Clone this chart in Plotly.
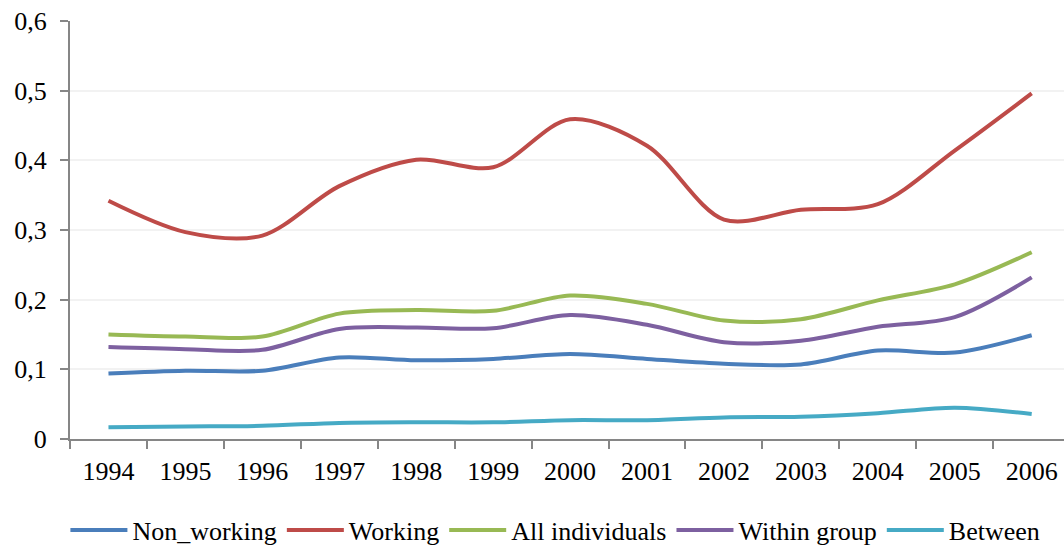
import plotly.graph_objects as go

years = ["1994", "1995", "1996", "1997", "1998", "1999", "2000",
         "2001", "2002", "2003", "2004", "2005", "2006"]

non_working = [0.094, 0.098, 0.098, 0.117, 0.113, 0.115, 0.122,
               0.115, 0.108, 0.107, 0.127, 0.124, 0.149]
working = [0.342, 0.297, 0.292, 0.363, 0.401, 0.390, 0.459,
           0.421, 0.315, 0.329, 0.337, 0.414, 0.496]
all_individuals = [0.150, 0.147, 0.147, 0.180, 0.185, 0.184, 0.206,
                   0.194, 0.170, 0.172, 0.199, 0.222, 0.268]
within_group = [0.132, 0.129, 0.128, 0.158, 0.160, 0.159, 0.178,
                0.164, 0.139, 0.141, 0.161, 0.175, 0.232]
between = [0.017, 0.018, 0.019, 0.023, 0.024, 0.024, 0.027,
           0.027, 0.031, 0.032, 0.037, 0.045, 0.036]

y_ticks = [0, 0.1, 0.2, 0.3, 0.4, 0.5, 0.6]
y_tick_text = ["0", "0,1", "0,2", "0,3", "0,4", "0,5", "0,6"]

series = [
    ("Non_working", non_working, "#4A7EBB"),
    ("Working", working, "#BE4B48"),
    ("All individuals", all_individuals, "#98B954"),
    ("Within group", within_group, "#7D60A0"),
    ("Between", between, "#46AAC5"),
]

FONT = "Liberation Serif"

fig = go.Figure()
for name, values, color in series:
    fig.add_trace(go.Scatter(
        x=years, y=values, name=name, mode="lines",
        line=dict(color=color, width=4, shape="spline", smoothing=0.9),
    ))

fig.update_layout(
    width=1064, height=547, autosize=False,
    margin=dict(l=70, r=0, t=21, b=108, pad=0),
    paper_bgcolor="white", plot_bgcolor="white",
    font=dict(family=FONT, size=26, color="#000000"),
    showlegend=True,
    legend=dict(
        orientation="h", xref="container", yref="container",
        x=0.522, xanchor="center", y=0.031, yanchor="middle",
        font=dict(family=FONT, size=26, color="#000000"),
        itemwidth=57, tracegroupgap=0, itemclick=False,
        bgcolor="rgba(0,0,0,0)",
    ),
)

fig.update_xaxes(
    type="category", range=[-0.5, 12.42],
    showline=True, linecolor="#868686", linewidth=2,
    ticks="outside", tickson="boundaries", ticklen=8,
    tickcolor="#868686", tickwidth=2,
    ticklabelstandoff=8,
    showgrid=False, zeroline=False,
    tickfont=dict(family=FONT, size=26, color="#000000"),
)

fig.update_yaxes(
    range=[0, 0.6], tickvals=y_ticks, ticktext=y_tick_text,
    showline=True, linecolor="#868686", linewidth=2,
    ticks="outside", ticklen=8, tickcolor="#868686", tickwidth=2,
    ticklabelstandoff=8,
    showgrid=True, gridcolor="#F2F2F2", gridwidth=2,
    zeroline=False,
    tickfont=dict(family=FONT, size=26, color="#000000"),
)

fig.write_html("out.html")
